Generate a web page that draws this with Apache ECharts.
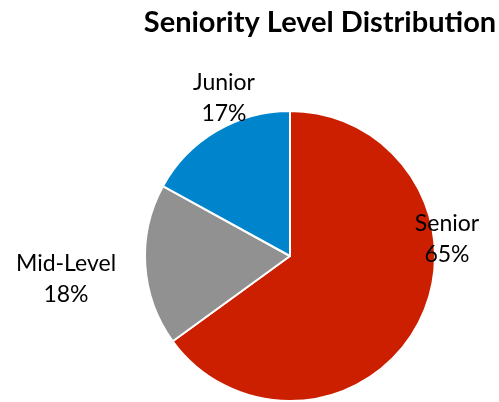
<!DOCTYPE html>
<html>
<head>
<meta charset="utf-8">
<script src="https://cdn.jsdelivr.net/npm/echarts@6/dist/echarts.min.js"></script>
<style>
  html, body { margin: 0; padding: 0; background: #fff; }
  #chart { width: 499px; height: 402px; }
</style>
</head>
<body>
<div id="chart"></div>
<script>
var levels = ['Senior', 'Mid-Level', 'Junior'];
var shares = [65, 18, 17];
var colors = ['#CC1F00', '#919191', '#0085CC'];

// label spots, picked by hand like the original layout
var labelSpots = [[447, 239], [66, 279], [224, 98]];

var chart = echarts.init(document.getElementById('chart'));

var pieData = [];
for (var i = 0; i < levels.length; i++) {
    pieData.push({
        name: levels[i],
        value: shares[i],
        itemStyle: { color: colors[i] }
    });
}

chart.setOption({
    animation: false,
    title: {
        text: 'Seniority Level Distribution',
        left: 315,
        top: 3,
        textAlign: 'center',
        textStyle: {
            fontFamily: 'Lato',
            fontWeight: 'bold',
            fontSize: 29,
            color: '#000'
        }
    },
    series: [{
        type: 'pie',
        center: [290, 256],
        radius: 145,
        startAngle: 90,
        clockwise: true,
        percentPrecision: 0,
        itemStyle: {
            borderColor: '#fff',
            borderWidth: 2
        },
        label: {
            show: true,
            position: 'outside',
            formatter: '{b}\n{d}%',
            fontFamily: 'Lato',
            fontSize: 23,
            lineHeight: 31,
            overflow: 'none',
            color: '#000'
        },
        labelLine: { show: false },
        labelLayout: function (params) {
            var p = labelSpots[params.dataIndex];
            return { x: p[0], y: p[1], align: 'center', verticalAlign: 'middle' };
        },
        emphasis: { disabled: true },
        data: pieData
    }]
});
</script>
</body>
</html>
